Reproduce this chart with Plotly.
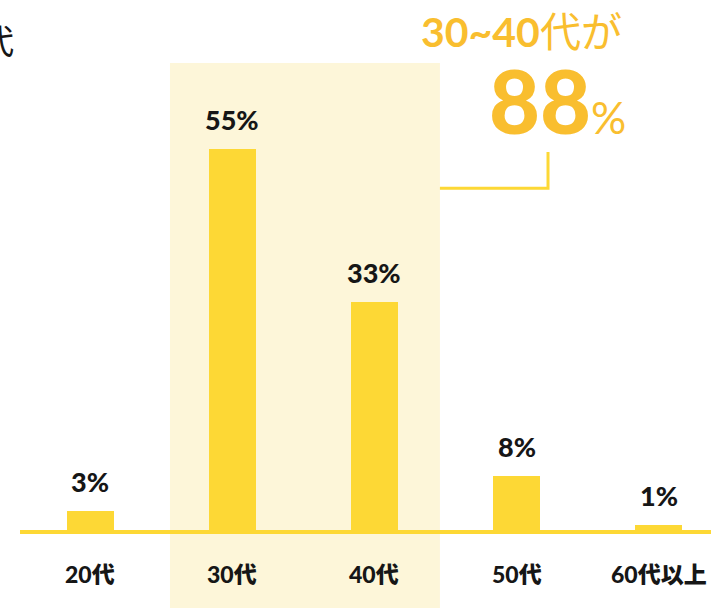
import plotly.graph_objects as go

categories = ["20代", "30代", "40代", "50代", "60代以上"]
shares = [3, 55, 33, 8, 1]
share_labels = ["3%", "55%", "33%", "8%", "1%"]

BAR = "#FDD835"
HILITE = "#FDF6D9"
ORANGE = "#F9BE2F"
INK = "#161616"
NUM_FONT = "Lato, Noto Sans CJK JP, sans-serif"

xs = list(range(len(categories)))

fig = go.Figure()
fig.add_trace(go.Bar(x=xs, y=shares, width=0.33, marker=dict(color=BAR, line=dict(width=0)),
                     hoverinfo="skip"))

# highlighted band behind 30代 / 40代
fig.add_shape(type="rect", xref="x", yref="y", x0=0.562, x1=2.46, y0=-12, y1=67.4,
              fillcolor=HILITE, line=dict(width=0), layer="below")
# baseline
fig.add_shape(type="line", xref="paper", yref="y", x0=20 / 711, x1=1, y0=0, y1=0,
              line=dict(color=BAR, width=4))
# bracket to the callout
fig.add_shape(type="path", xref="x", yref="y",
              path="M 2.46 49.4 L 3.22 49.4 L 3.22 54.6",
              line=dict(color=BAR, width=3))

for x, v, lab in zip(xs, shares, share_labels):
    fig.add_annotation(x=x, y=v, text=lab, showarrow=False, yanchor="bottom",
                       yshift=11, font=dict(family=NUM_FONT, size=27, color=INK, weight=900))

for x, c in zip(xs, categories):
    fig.add_annotation(x=x, y=-6, text=c, showarrow=False, yanchor="middle",
                       font=dict(family=NUM_FONT, size=23, color=INK, weight=900))

# callout text
fig.add_annotation(xref="paper", yref="paper", x=521 / 711, y=1 - 32 / 608,
                   text="<b>30~40</b>代が", showarrow=False, xanchor="center", yanchor="middle",
                   font=dict(family=NUM_FONT, size=41, color=ORANGE))
fig.add_annotation(xref="paper", yref="paper", x=557 / 711, y=1 - 100 / 608,
                   text="88<span style='font-size:44px;font-weight:400'>%</span>",
                   showarrow=False, xanchor="center", yanchor="middle",
                   font=dict(family=NUM_FONT, size=88, color=ORANGE, weight=900))

# cut-off title fragment at top left
fig.add_annotation(xref="paper", yref="paper", x=16 / 711, y=1 - 39 / 608,
                   text="代", showarrow=False, xanchor="right", yanchor="middle",
                   font=dict(family="Noto Sans CJK JP", size=34, color=INK))

fig.update_layout(
    width=711, height=608,
    margin=dict(l=0, r=0, t=0, b=0),
    paper_bgcolor="white", plot_bgcolor="white",
    showlegend=False,
    bargap=0,
)
fig.update_xaxes(range=[-0.633, 4.366], visible=False, fixedrange=True)
fig.update_yaxes(range=[-10.92, 76.44], visible=False, fixedrange=True)

fig.write_html("out.html", config={"displayModeBar": False},
               post_script="document.body.style.margin='0px';")
